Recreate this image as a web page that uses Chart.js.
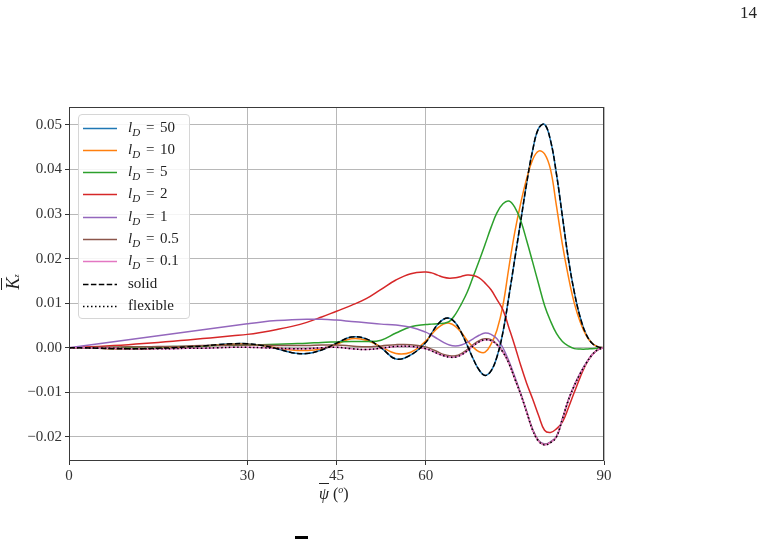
<!DOCTYPE html>
<html>
<head>
<meta charset="utf-8">
<script src="https://cdn.jsdelivr.net/npm/chart.js@4.4.0/dist/chart.umd.min.js"></script>
<style>
html, body { margin: 0; padding: 0; background: #fff; }
#wrap { position: relative; width: 765px; height: 539px; font-family: "Liberation Serif", "DejaVu Serif", serif; color: #222; }
#c { position: absolute; left: 0; top: 0; }
.lbl { position: absolute; white-space: nowrap; }
#legend { position: absolute; left: 78px; top: 114px; width: 112px; height: 205px; border: 1px solid #d6d6d6; border-radius: 4px; background: rgba(255,255,255,0.85); box-sizing: border-box; }
.row { position: absolute; left: 0; height: 20px; width: 110px; font-size: 15px; line-height: 20px; }
.row svg { position: absolute; left: 4px; top: 9px; }
.row span.t { position: absolute; left: 49px; top: -1px; }
.sub { font-size: 11px; position: relative; top: 4px; font-style: italic; }
.eq { margin: 0 2px; }
.ov { border-top: 1px solid #222; padding-top: 1px; font-style: italic; }
</style>
</head>
<body>
<div id="wrap">
  <canvas id="c" width="765" height="539"></canvas>
  <div class="lbl" style="left:740px; top:3px; font-size:17px;">14</div>
  <div class="lbl" style="left:319px; top:481px; font-size:16px; line-height:18px;"><span class="ov">ψ</span>&nbsp;(<sup style="font-size:10px;"><i>o</i></sup>)</div>
  <div class="lbl" style="left:0px; top:270px; width:30px; text-align:center; font-size:18px; line-height:20px; transform:rotate(-90deg);"><span class="ov">K</span><span style="font-size:8px; font-style:italic;">z</span></div>
  <div id="legend"></div>
  <div style="position:absolute; left:295px; top:536px; width:13px; height:3px; background:#000;"></div>
</div>
<script>
// x positions (degrees)
const xs = [0, 2.5, 5, 7.5, 10, 12.5, 15, 17.5, 20, 22.5, 25, 27.5, 30, 32.5, 35, 37.5, 40, 42.5, 45, 47.5, 50, 52.5, 55, 57.5, 60,
    61, 62, 63, 64, 65, 66, 67, 68, 69, 70, 71, 72, 73, 74, 75, 76, 77, 78, 79, 80, 81, 82, 83, 84, 85, 86, 87, 88, 89, 90];

const solid = [0, 0, -0.0001, -0.0002, -0.0002, -0.0002, -0.0001, 0, 0.0002, 0.0004, 0.0007, 0.0009, 0.0009, 0.0005, -0.0002, -0.0011, -0.0013, -0.0005, 0.0010, 0.0024, 0.0020, 0.0000, -0.0025, -0.0016, 0.0012,
    0.0033, 0.0052, 0.0064, 0.0066, 0.0056, 0.0034, 0.0005, -0.0025, -0.0050, -0.0062, -0.0052, -0.0020, 0.0035, 0.0115, 0.0200, 0.0285, 0.0370, 0.0443, 0.0492, 0.0501, 0.0465, 0.0390, 0.0295, 0.0200, 0.0125, 0.0068, 0.0030, 0.0010, 0.0002, 0];
const ld50 = [0, 0, -0.0001, -0.0002, -0.0002, -0.0002, -0.0001, 0, 0.0002, 0.0004, 0.0007, 0.0009, 0.0009, 0.0005, -0.0002, -0.0011, -0.0013, -0.0005, 0.0010, 0.0024, 0.0020, 0.0000, -0.0025, -0.0016, 0.0012,
    0.0033, 0.0052, 0.0064, 0.0066, 0.0056, 0.0034, 0.0005, -0.0025, -0.0050, -0.0062, -0.0052, -0.0020, 0.0035, 0.0115, 0.0200, 0.0285, 0.0370, 0.0443, 0.0492, 0.0501, 0.0465, 0.0390, 0.0295, 0.0200, 0.0125, 0.0068, 0.0030, 0.0010, 0.0002, 0];
const ld10 = [0, 0, -0.0001, -0.0002, -0.0002, -0.0002, -0.0001, 0, 0.0002, 0.0004, 0.0006, 0.0008, 0.0008, 0.0005, 0, -0.0005, -0.0006, -0.0002, 0.0008, 0.0020, 0.0017, 0.0002, -0.0013, -0.0010, 0.0015,
    0.0030, 0.0044, 0.0053, 0.0055, 0.0048, 0.0034, 0.0016, 0.0001, -0.0009, -0.0010, 0.0008, 0.0040, 0.0095, 0.0180, 0.0260, 0.0325, 0.0380, 0.0422, 0.0441, 0.0435, 0.0400, 0.0318, 0.0232, 0.0160, 0.0100, 0.0058, 0.0028, 0.0010, 0.0002, 0];
const ld5 = [0, 0, 0, 0.0001, 0.0001, 0.0002, 0.0002, 0.0003, 0.0003, 0.0004, 0.0005, 0.0005, 0.0006, 0.0007, 0.0008, 0.0009, 0.0010, 0.0012, 0.0013, 0.0014, 0.0014, 0.0017, 0.0033, 0.0047, 0.0052,
    0.0053, 0.0054, 0.0055, 0.0059, 0.0075, 0.0098, 0.0125, 0.0160, 0.0195, 0.0232, 0.0270, 0.0303, 0.0323, 0.0329, 0.0315, 0.0285, 0.0240, 0.0192, 0.0143, 0.0095, 0.0060, 0.0032, 0.0014, 0.0004, -0.0002, -0.0003, -0.0003, -0.0002, -0.0001, 0];
const ld2 = [0, 0.00015, 0.0003, 0.00048, 0.0007, 0.00095, 0.0012, 0.00148, 0.00175, 0.00205, 0.00235, 0.00268, 0.003, 0.0035, 0.0041, 0.0048, 0.0057, 0.0069, 0.0082, 0.0095, 0.0110, 0.0131, 0.0152, 0.0166, 0.0170,
    0.0168, 0.0163, 0.0158, 0.0156, 0.0157, 0.0160, 0.0163, 0.0162, 0.0157, 0.0145, 0.0130, 0.0108, 0.0085, 0.0045, 0.0004, -0.0040, -0.0080, -0.0115, -0.0152, -0.0185, -0.0190, -0.0182, -0.0167, -0.0135, -0.0100, -0.0066, -0.0036, -0.0015, -0.0004, 0];
const ld1 = [0, 0.00045, 0.0009, 0.00135, 0.0018, 0.00225, 0.0027, 0.00315, 0.0036, 0.00405, 0.0045, 0.00495, 0.0054, 0.0058, 0.0061, 0.0063, 0.0064, 0.0064, 0.0062, 0.0059, 0.0056, 0.0053, 0.0051, 0.0046, 0.0035,
    0.0028, 0.0020, 0.0012, 0.0006, 0.0004, 0.0006, 0.0012, 0.0020, 0.0028, 0.0033, 0.0030, 0.0020, 0.0000, -0.0030, -0.0065, -0.0103, -0.0143, -0.0183, -0.0208, -0.0216, -0.0211, -0.0199, -0.0160, -0.0117, -0.0084, -0.0057, -0.0034, -0.0015, -0.0004, 0];
const ld05 = [0, 0, 0.0001, 0.0001, 0.0002, 0.0002, 0.0003, 0.0003, 0.0004, 0.0005, 0.0005, 0.0006, 0.0006, 0.0006, 0.0005, 0.0005, 0.0005, 0.0006, 0.0006, 0.0004, 0.0002, 0.0004, 0.0007, 0.0007, 0.0002,
    -0.0003, -0.0009, -0.0015, -0.0018, -0.0018, -0.0013, -0.0004, 0.0007, 0.0016, 0.0020, 0.0018, 0.0008, -0.0009, -0.0034, -0.0069, -0.0104, -0.0144, -0.0184, -0.0209, -0.0217, -0.0212, -0.0200, -0.0160, -0.0118, -0.0085, -0.0058, -0.0035, -0.0016, -0.0004, 0];
const ld01 = [0, 0, -0.0001, -0.0001, -0.0002, -0.0002, -0.0002, -0.0002, -0.0001, -0.0001, 0, 0.0001, 0.0001, 0, -0.0001, -0.0002, -0.0002, 0, 0.0001, -0.0002, -0.0004, -0.0001, 0.0003, 0.0003, -0.0002,
    -0.0007, -0.0013, -0.0018, -0.0021, -0.0021, -0.0016, -0.0007, 0.0004, 0.0013, 0.0018, 0.0016, 0.0007, -0.0010, -0.0035, -0.0070, -0.0105, -0.0145, -0.0185, -0.0210, -0.0218, -0.0213, -0.0200, -0.0160, -0.0118, -0.0085, -0.0058, -0.0035, -0.0016, -0.0004, 0];
const flexible = [0, 0, -0.0001, -0.0001, -0.0002, -0.0002, -0.0002, -0.0002, -0.0001, -0.0001, 0, 0.0001, 0.0001, 0, -0.0001, -0.0002, -0.0002, 0, 0.0001, -0.0002, -0.0004, -0.0001, 0.0003, 0.0003, -0.0002,
    -0.0007, -0.0013, -0.0018, -0.0021, -0.0021, -0.0016, -0.0007, 0.0004, 0.0013, 0.0018, 0.0016, 0.0007, -0.0010, -0.0035, -0.0070, -0.0105, -0.0145, -0.0185, -0.0210, -0.0218, -0.0213, -0.0200, -0.0160, -0.0118, -0.0085, -0.0058, -0.0035, -0.0016, -0.0004, 0];

const ldValues = ['50', '10', '5', '2', '1', '0.5', '0.1'];
const xTicks = [0, 30, 45, 60, 90];
const yTicks = [-0.02, -0.01, 0, 0.01, 0.02, 0.03, 0.04, 0.05];

const seriesList = [ld50, ld10, ld5, ld2, ld1, ld05, ld01, solid, flexible];
const colors = ['#1f77b4', '#ff7f0e', '#2ca02c', '#d62728', '#9467bd', '#8c564b', '#e377c2', '#000000', '#000000'];
const dashes = [[], [], [], [], [], [], [], [5.5, 2.4], [1.5, 2.5]];
const names = ldValues.map(v => 'l_D = ' + v).concat(['solid', 'flexible']);

const datasets = seriesList.map((arr, i) => ({
    label: names[i],
    data: arr.map((y, k) => ({ x: xs[k], y: y })),
    borderColor: colors[i],
    borderWidth: 1.5,
    borderDash: dashes[i],
    pointRadius: 0,
    fill: false,
    tension: 0.4,
    order: seriesList.length - i
}));

// frame around the plot area
const framePlugin = {
    id: 'frame',
    afterDraw(chart) {
        const a = chart.chartArea, ctx = chart.ctx;
        ctx.save();
        ctx.strokeStyle = '#3a3a3a';
        ctx.lineWidth = 1;
        ctx.strokeRect(a.left + 0.5, a.top + 0.5, a.right - a.left - 1, a.bottom - a.top - 1);
        ctx.restore();
    }
};

const tickFont = { family: '"Liberation Serif", "DejaVu Serif", serif', size: 15 };

new Chart(document.getElementById('c'), {
    type: 'line',
    data: { datasets: datasets },
    plugins: [framePlugin],
    options: {
        responsive: false,
        animation: false,
        devicePixelRatio: 1,
        layout: { padding: { left: 0, top: 107, right: 161, bottom: 0 } },
        plugins: { legend: { display: false }, tooltip: { enabled: false } },
        scales: {
            x: {
                type: 'linear',
                min: 0,
                max: 90,
                afterBuildTicks: s => { s.ticks = xTicks.map(v => ({ value: v })); },
                afterFit: s => { s.height = 78; },
                grid: { color: '#b8b8b8', lineWidth: 1, tickLength: 4, tickColor: '#333' },
                border: { display: false },
                ticks: { font: tickFont, color: '#333', padding: 2, maxRotation: 0, callback: v => String(v) }
            },
            y: {
                type: 'linear',
                min: -0.0254,
                max: 0.054,
                afterBuildTicks: s => { s.ticks = yTicks.map(v => ({ value: v })); },
                afterFit: s => { s.width = 69; },
                grid: { color: '#b8b8b8', lineWidth: 1, tickLength: 4, tickColor: '#333' },
                border: { display: false },
                ticks: { font: tickFont, color: '#333', padding: 3, callback: v => v.toFixed(2).replace('-', '\u2212') }
            }
        }
    }
});

// legend box inside the axes
const legend = document.getElementById('legend');
names.forEach((name, i) => {
    const row = document.createElement('div');
    row.className = 'row';
    row.style.top = (2.5 + 22.3 * i) + 'px';
    const dash = dashes[i].length ? dashes[i].join(',') : 'none';
    const text = i < ldValues.length
        ? '<i>l</i><span class="sub">D</span> <span class="eq">=</span> ' + ldValues[i]
        : name;
    row.innerHTML = '<svg width="34" height="3"><line x1="0" y1="1.5" x2="34" y2="1.5" stroke="' + colors[i] +
        '" stroke-width="1.5" stroke-dasharray="' + dash + '"/></svg><span class="t">' + text + '</span>';
    legend.appendChild(row);
});
</script>
</body>
</html>
